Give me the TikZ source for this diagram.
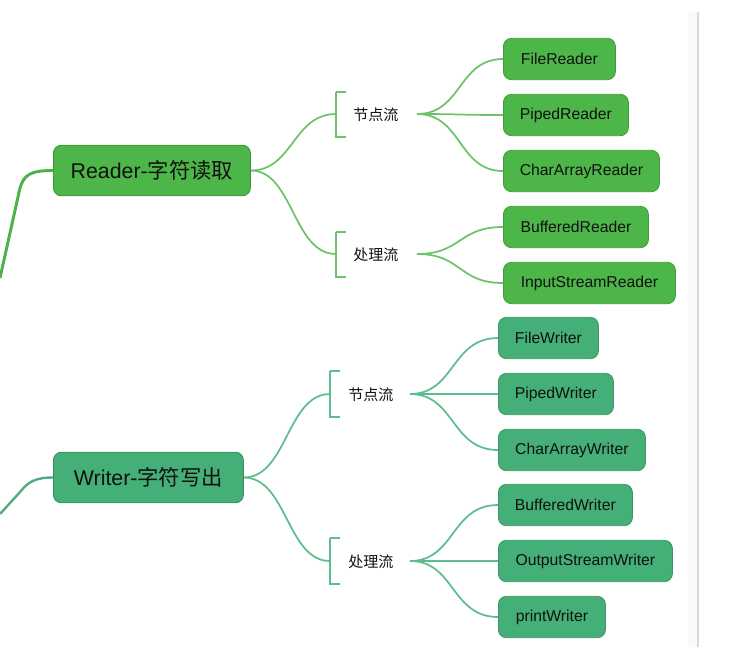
\documentclass[tikz,border=0pt]{standalone}
\usepackage{fontspec}
\setmainfont{Liberation Sans}
\newfontfamily\cjk{Noto Sans CJK SC}
\definecolor{rfill}{HTML}{4CB648}
\definecolor{rline}{HTML}{6CC36A}
\definecolor{rmain}{HTML}{4DB24A}
\definecolor{wfill}{HTML}{44AF76}
\definecolor{wline}{HTML}{5EBD8F}
\definecolor{txt}{HTML}{111111}
\begin{document}
\begin{tikzpicture}[x=0.75pt,y=-0.75pt,
  boxw/.style={minimum width=#1*0.75pt},
  rootbox/.style={rounded corners=6pt, draw=#1!80!black, line width=0.6pt, fill=#1, anchor=west,
    inner xsep=4pt, minimum height=38pt, text=txt, font=\fontsize{16}{18}\selectfont},
  leafbox/.style={rounded corners=6pt, draw=#1!85!black, line width=0.6pt, fill=#1, anchor=west,
    inner xsep=4pt, minimum height=31pt, text=txt, font=\fontsize{11.8}{13}\selectfont},
  grouplabel/.style={anchor=west, inner sep=0pt, text=txt, font=\cjk\fontsize{11.3}{13}\selectfont},
  rconn/.style={draw=rline, line width=1.3pt},
  wconn/.style={draw=wline, line width=1.3pt},
]
\useasboundingbox (0,0) rectangle (748,647);
% right-hand gray rule
\fill[gray!4] (688,12) rectangle (697,647);
\draw[gray!30, line width=0.9pt] (698,12) -- (698,647);

% ---------------- Reader ----------------
\node[rootbox=rfill, boxw=197] (reader) at (53,170.5) {Reader-{\cjk 字符读取}};
\coordinate (rin) at (0,278);
\draw[draw=rmain, line width=2.2pt] (reader.west) .. controls (30,170.5) and (24,175) .. (20,188) -- (rin);

\node[leafbox=rfill, boxw=112] (fr) at (503,59) {FileReader};
\node[leafbox=rfill, boxw=125] (pr) at (503,115) {PipedReader};
\node[leafbox=rfill, boxw=156] (cr) at (503,171) {CharArrayReader};
\node[leafbox=rfill, boxw=145] (br) at (503,227) {BufferedReader};
\node[leafbox=rfill, boxw=172] (ir) at (503,283) {InputStreamReader};

\coordinate (rb1) at (336,114);
\coordinate (rb2) at (336,254);
\node[grouplabel] (rl1) at (353,115) {节点流};
\node[grouplabel] (rl2) at (353,255) {处理流};
\coordinate (rf1) at (417,114);
\coordinate (rf2) at (417,254);

\draw[rconn] (336,92) -- ++(10,0) (336,92) -- (336,137) -- ++(10,0);
\draw[rconn] (336,232) -- ++(10,0) (336,232) -- (336,277) -- ++(10,0);

\draw[rconn] (reader.east) .. controls (293,170.5) and (293,114) .. (rb1);
\draw[rconn] (reader.east) .. controls (293,170.5) and (293,254) .. (rb2);

\foreach \n in {fr,pr,cr}
  \draw[rconn] (rf1) .. controls (462,114) and (458,0|-\n.west) .. (\n.west);
\foreach \n in {br,ir}
  \draw[rconn] (rf2) .. controls (462,254) and (458,0|-\n.west) .. (\n.west);

% ---------------- Writer ----------------
\node[rootbox=wfill, boxw=190] (writer) at (53,477.5) {Writer-{\cjk 字符写出}};
\coordinate (win) at (0,514);
\draw[draw=wline!90!black, line width=1.8pt] (writer.west) .. controls (35,477.5) and (28,482) .. (20,492) -- (win);

\node[leafbox=wfill, boxw=100] (fw) at (498,338) {FileWriter};
\node[leafbox=wfill, boxw=115] (pw) at (498,394) {PipedWriter};
\node[leafbox=wfill, boxw=147] (cw) at (498,450) {CharArrayWriter};
\node[leafbox=wfill, boxw=134] (bw) at (498,505) {BufferedWriter};
\node[leafbox=wfill, boxw=174] (ow) at (498,561) {OutputStreamWriter};
\node[leafbox=wfill, boxw=107] (prw) at (498,617) {printWriter};

\coordinate (wb1) at (330,394);
\coordinate (wb2) at (330,561);
\node[grouplabel] (wl1) at (348,395) {节点流};
\node[grouplabel] (wl2) at (348,562) {处理流};
\coordinate (wf1) at (410,394);
\coordinate (wf2) at (410,561);

\draw[wconn] (330,371) -- ++(10,0) (330,371) -- (330,417) -- ++(10,0);
\draw[wconn] (330,538) -- ++(10,0) (330,538) -- (330,584) -- ++(10,0);

\draw[wconn] (writer.east) .. controls (287,477.5) and (287,394) .. (wb1);
\draw[wconn] (writer.east) .. controls (287,477.5) and (287,561) .. (wb2);

\foreach \n in {fw,pw,cw}
  \draw[wconn] (wf1) .. controls (455,394) and (451,0|-\n.west) .. (\n.west);
\foreach \n in {bw,ow,prw}
  \draw[wconn] (wf2) .. controls (455,561) and (451,0|-\n.west) .. (\n.west);
\end{tikzpicture}
\end{document}
